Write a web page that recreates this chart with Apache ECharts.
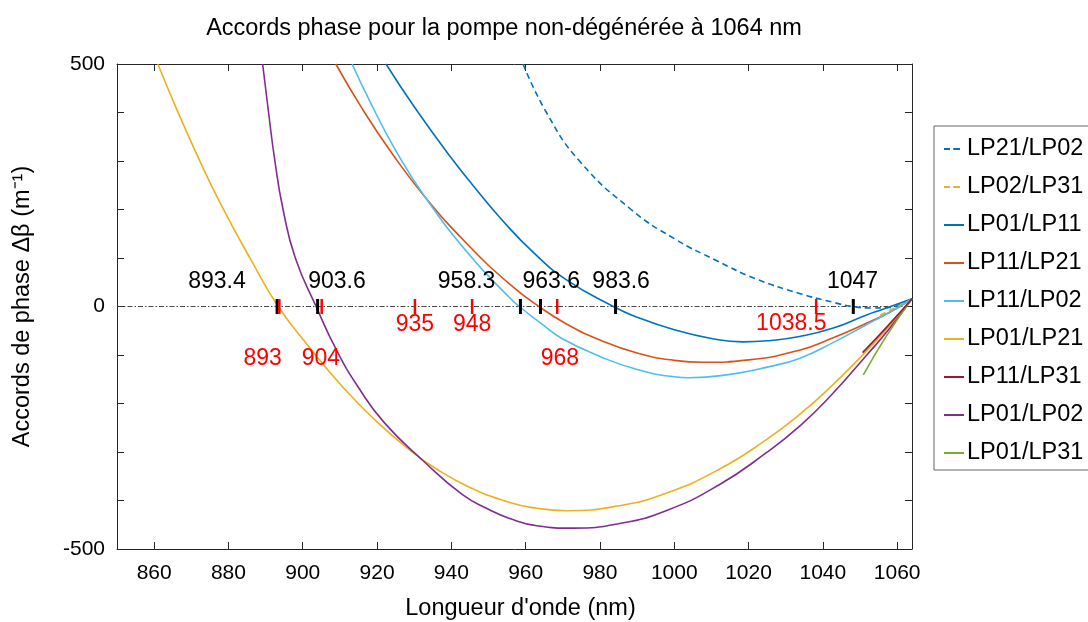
<!DOCTYPE html>
<html>
<head>
<meta charset="utf-8">
<script src="https://cdn.jsdelivr.net/npm/echarts@6/dist/echarts.min.js"></script>
<style>html,body{margin:0;padding:0;background:#fff}#c{width:1088px;height:622px}</style>
</head>
<body>
<div id="c"></div>
<script>
// ---- data ----
const xTicks = [860, 880, 900, 920, 940, 960, 980, 1000, 1020, 1040, 1060];
const yLabelTicks = [-500, 0, 500];
const seriesNames = ['LP21/LP02', 'LP02/LP31', 'LP01/LP11', 'LP11/LP21', 'LP11/LP02', 'LP01/LP21', 'LP11/LP31', 'LP01/LP02', 'LP01/LP31'];

const lp21_lp02 = [[959.3,500],[965.6,400],[974.5,300],[988.4,200],[1000,140],[1011.3,95],[1022,57],[1033.7,27],[1042.6,9],[1048,0],[1053,-3],[1058,-2],[1061,5],[1064,16]];
const lp02_lp31 = [[1055.4,-18],[1060,0],[1064,16]];
const lp01_lp11 = [[922.4,500],[930,412],[940,306],[946,248],[953,184],[962,112],[971,55],[983.6,0],[990,-22],[1000,-48],[1010,-66],[1018.4,-73],[1026,-70],[1033.7,-62],[1042.6,-45],[1051.6,-18],[1056,-6],[1064,16]];
const lp11_lp21 = [[908.9,500],[916,408],[924,316],[932.9,226],[944,131],[955.7,46],[963.6,0],[971,-36],[980,-69],[990,-96],[1000,-111],[1008,-115],[1020,-110],[1033.7,-90],[1042.6,-65],[1051.6,-35],[1058,-12],[1064,16]];
const lp11_lp02 = [[913.3,500],[918,424],[925,322],[932.9,226],[945,105],[955.7,18],[958.3,0],[965,-40],[970,-67],[980,-103],[990,-130],[1000,-145],[1004,-147],[1015,-140],[1025,-125],[1033.7,-107],[1042.6,-75],[1051.6,-38],[1058,-12],[1064,16]];
const lp01_lp21 = [[861,500],[866,408],[872,305],[878,210],[886,97],[893.4,0],[902,-86],[911,-168],[920,-238],[928,-291],[936,-335],[945,-373],[955.7,-404],[963,-416],[971,-421],[985,-411],[997.8,-385],[1012,-336],[1024.7,-275],[1034,-221],[1042.6,-162],[1051.6,-93],[1058,-39],[1064,16]];
const lp11_lp31 = [[1050.7,-95],[1057,-44],[1064,16]];
const lp01_lp02 = [[889.2,500],[890.8,400],[892.5,300],[894.7,200],[898,100],[903.6,0],[909.1,-90],[915,-167],[922,-240],[932.4,-318],[943,-388],[950,-418],[955.7,-437],[963,-452],[972.7,-457],[985,-448],[997.8,-421],[1012,-368],[1024.7,-302],[1034,-245],[1042.6,-180],[1051.6,-102],[1058,-45],[1064,16]];
const lp01_lp31 = [[1050.9,-141],[1057,-62],[1064,16]];

const blackMarkX = [893.1, 904.0, 958.6, 964.0, 984.2, 1048.2];
const blackLabels = ['893.4', '903.6', '958.3', '963.6', '983.6', '1047'];
const blackLabelX = [876.9, 909.2, 944.1, 966.9, 985.7, 1048];
const blackLabelY = [51, 51, 51, 51, 51, 51];

const redMarkX = [893.7, 905.1, 930.2, 945.6, 968.5, 1038.2];
const redLabels = ['893', '904', '935', '948', '968', '1038.5'];
const redLabelX = [889.2, 904.9, 930.2, 945.6, 969.2, 1031.5];
const redLabelY = [-107, -107, -38, -38, -107, -36];

const zeroLine = [[850, 0], [1064, 0]];

// ---- chart ----
const FONT = '"Liberation Sans", Arial, Helvetica, sans-serif';
const chart = echarts.init(document.getElementById('c'), null, {renderer: 'canvas'});

const ICON_SOLID = 'rect';
const ICON_DASH = 'path://M0,0h7v2h-7zM11,0h7v2h-7z';

function curve(name, data, color, dashed, z) {
  return {
    type: 'line', name: name, data: data, symbol: 'none', showSymbol: false,
    smooth: 0.5, clip: true, z: z || 2,
    legendIcon: dashed ? ICON_DASH : ICON_SOLID,
    lineStyle: {color: color, width: 1.6, type: dashed ? [6, 4] : 'solid'},
    itemStyle: {color: color}
  };
}

const axisColor = '#262626';
function xAx(pos, showLabel) {
  return {
    type: 'value', min: 850, max: 1064, position: pos,
    axisLine: {show: true, onZero: false, lineStyle: {color: axisColor, width: 1}},
    axisTick: {show: true, inside: true, length: 7, customValues: xTicks, lineStyle: {color: axisColor}},
    axisLabel: {show: showLabel, customValues: xTicks, formatter: v => String(v), color: '#000', fontSize: 21, margin: 14, fontFamily: FONT},
    splitLine: {show: false},
    name: showLabel ? "Longueur d'onde (nm)" : '',
    nameLocation: 'middle', nameGap: 48,
    nameTextStyle: {color: '#000', fontSize: 23.5, fontFamily: FONT, padding: [0, 0, 0, 12]}
  };
}
function yAx(pos, showLabel) {
  return {
    type: 'value', min: -500, max: 500, interval: 100, position: pos,
    axisLine: {show: true, onZero: false, lineStyle: {color: axisColor, width: 1}},
    axisTick: {show: true, inside: true, length: 7, lineStyle: {color: axisColor}},
    axisLabel: {show: showLabel, customValues: yLabelTicks, formatter: v => String(v), color: '#000', fontSize: 21, margin: 12, fontFamily: FONT},
    splitLine: {show: false},
    name: showLabel ? 'Accords de phase \u0394\u03B2 (m\u207B\u00B9)' : '',
    nameLocation: 'middle', nameGap: 82,
    nameTextStyle: {color: '#000', fontSize: 23.5, fontFamily: FONT}
  };
}

const option = {
  animation: false,
  backgroundColor: '#fff',
  title: {
    text: 'Accords phase pour la pompe non-dégénérée à 1064 nm',
    left: 499, top: 12, textAlign: 'center',
    textStyle: {fontSize: 23.5, fontWeight: 'normal', color: '#000', fontFamily: FONT}
  },
  grid: {left: 117, right: 176, top: 64, bottom: 73, containLabel: false, outerBoundsMode: 'none'},
  legend: {
    data: seriesNames, orient: 'vertical', left: 934, top: 126,
    itemWidth: 20, itemHeight: 2.5, itemGap: 14, align: 'left',
    padding: [11, 16, 5, 9],
    borderColor: '#666', borderWidth: 1, backgroundColor: '#fff',
    textStyle: {fontSize: 23.5, lineHeight: 23, color: '#000', fontFamily: FONT, padding: [0, 0, 0, -2]}
  },
  xAxis: [xAx('bottom', true), xAx('top', false)],
  yAxis: [yAx('left', true), yAx('right', false)],
  series: [
    {type: 'line', name: 'zero', data: zeroLine, symbol: 'none', silent: true, z: 1,
     lineStyle: {color: '#333', width: 0.9, type: [5, 2, 1.5, 2]}},
    curve(seriesNames[0], lp21_lp02, '#0072BD', true),
    curve(seriesNames[1], lp02_lp31, '#EDB120', true),
    curve(seriesNames[2], lp01_lp11, '#0072BD', false),
    curve(seriesNames[3], lp11_lp21, '#D95319', false),
    curve(seriesNames[4], lp11_lp02, '#4DBEEE', false),
    curve(seriesNames[5], lp01_lp21, '#EDB120', false),
    curve(seriesNames[7], lp01_lp02, '#7E2F8E', false),
    curve(seriesNames[6], lp11_lp31, '#A2142F', false, 3),
    curve(seriesNames[8], lp01_lp31, '#77AC30', false),
    {type: 'scatter', name: 'blackMarks', silent: true, z: 5,
     data: blackMarkX.map(x => [x, 0]), symbol: 'rect', symbolSize: [3, 15],
     itemStyle: {color: '#000', opacity: 1}},
    {type: 'scatter', name: 'redMarks', silent: true, z: 5,
     data: redMarkX.map(x => [x, 0]), symbol: 'rect', symbolSize: [2.5, 15],
     itemStyle: {color: '#ff0000', opacity: 1}},
    {type: 'scatter', name: 'blackText', silent: true, z: 6, symbolSize: 0,
     itemStyle: {opacity: 1},
     data: blackLabels.map((t, i) => ({name: t, value: [blackLabelX[i], blackLabelY[i]]})),
     label: {show: true, position: 'inside', formatter: '{b}', color: '#000', opacity: 1, textBorderWidth: 0, fontSize: 23, fontFamily: FONT}},
    {type: 'scatter', name: 'redText', silent: true, z: 6, symbolSize: 0,
     itemStyle: {opacity: 1},
     data: redLabels.map((t, i) => ({name: t, value: [redLabelX[i], redLabelY[i]]})),
     label: {show: true, position: 'inside', formatter: '{b}', color: '#ff0000', opacity: 1, textBorderWidth: 0, fontSize: 23, fontFamily: FONT}}
  ]
};
chart.setOption(option);
</script>
</body>
</html>
